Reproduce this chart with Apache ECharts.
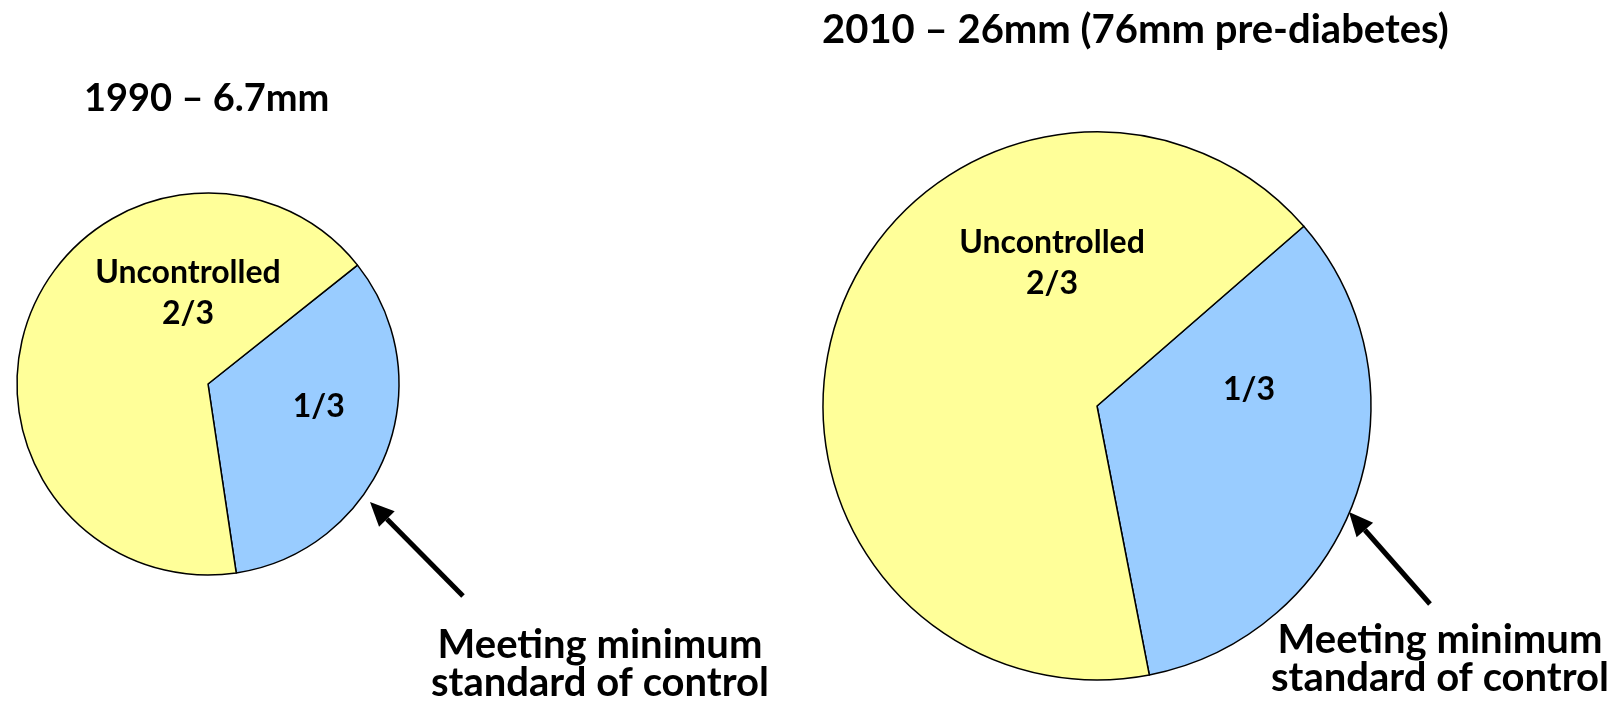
<!DOCTYPE html>
<html>
<head>
<meta charset="utf-8">
<script src="https://cdn.jsdelivr.net/npm/echarts@6/dist/echarts.min.js"></script>
<style>
  html, body { margin: 0; padding: 0; background: #fff; }
  #main { width: 1619px; height: 707px; }
</style>
</head>
<body>
<div id="main"></div>
<script>
// slice data: first slice = meeting control, second = uncontrolled
const sliceNames = ["Meeting minimum standard of control", "Uncontrolled"];
const sliceLabels = ["1/3", "Uncontrolled\n2/3"];
const share1990 = [1, 2];
const share2010 = [1, 2];
const chartTitles = ["1990 – 6.7mm", "2010 – 26mm (76mm pre-diabetes)"];
const calloutText = "Meeting minimum\nstandard of control";

const FONT = "Lato";
const COLORS = ["#99CCFF", "#FFFF99"];

// label anchors as fraction of radius from the pie centre
const labelOffsets = [
  [[0.58, 0.12], [-0.105, -0.475]],
  [[0.555, -0.058], [-0.164, -0.52]],
];

const pies = [
  { center: [208, 384], radius: 191, startAngle: 38.5, values: share1990 },
  { center: [1097, 406], radius: 274, startAngle: 41, values: share2010 },
];

const chart = echarts.init(document.getElementById("main"));

function arrow(tail, tip) {
  const ang = Math.atan2(tip[1] - tail[1], tip[0] - tail[0]);
  const len = 24, half = 11;
  const bx = tip[0] - len * Math.cos(ang);
  const by = tip[1] - len * Math.sin(ang);
  const px = -Math.sin(ang) * half, py = Math.cos(ang) * half;
  return [
    {
      type: "line",
      shape: { x1: tail[0], y1: tail[1], x2: bx, y2: by },
      style: { stroke: "#000", lineWidth: 5 },
    },
    {
      type: "polygon",
      shape: { points: [tip, [bx + px, by + py], [bx - px, by - py]] },
      style: { fill: "#000" },
    },
  ];
}

function callout(x, y) {
  return {
    type: "text",
    x: x,
    y: y,
    style: {
      text: calloutText,
      font: `bold 40px ${FONT}`,
      fill: "#000",
      align: "center",
      verticalAlign: "top",
      lineHeight: 38,
    },
  };
}

const series = pies.map((p, i) => ({
  type: "pie",
  center: p.center,
  radius: p.radius,
  startAngle: p.startAngle,
  clockwise: true,
  avoidLabelOverlap: false,
  silent: true,
  data: p.values.map((v, j) => ({
    name: sliceNames[j],
    value: v,
    itemStyle: { color: COLORS[j] },
  })),
  itemStyle: { borderColor: "#000", borderWidth: 1.5 },
  label: {
    show: true,
    position: "inside",
    formatter: params => sliceLabels[params.dataIndex],
    color: "#000",
    fontFamily: FONT,
    fontWeight: "bold",
    fontSize: 32,
    lineHeight: 41,
    align: "center",
  },
  labelLine: { show: false },
  labelLayout: params => {
    const off = labelOffsets[i][params.dataIndex];
    return {
      x: p.center[0] + off[0] * p.radius,
      y: p.center[1] + off[1] * p.radius,
      align: "center",
      verticalAlign: "middle",
    };
  },
}));

chart.setOption({
  animation: false,
  backgroundColor: "#fff",
  title: [
    {
      text: chartTitles[0],
      left: 84,
      top: 80,
      padding: 0,
      textStyle: { fontFamily: FONT, fontWeight: "bold", fontSize: 38, color: "#000" },
    },
    {
      text: chartTitles[1],
      left: 822,
      top: 10,
      padding: 0,
      textStyle: { fontFamily: FONT, fontWeight: "bold", fontSize: 40, color: "#000" },
    },
  ],
  series: series,
  graphic: [
    ...arrow([463, 596], [370, 502]),
    ...arrow([1430, 604], [1349, 512]),
    callout(600, 626),
    callout(1440, 621),
  ],
});
</script>
</body>
</html>
